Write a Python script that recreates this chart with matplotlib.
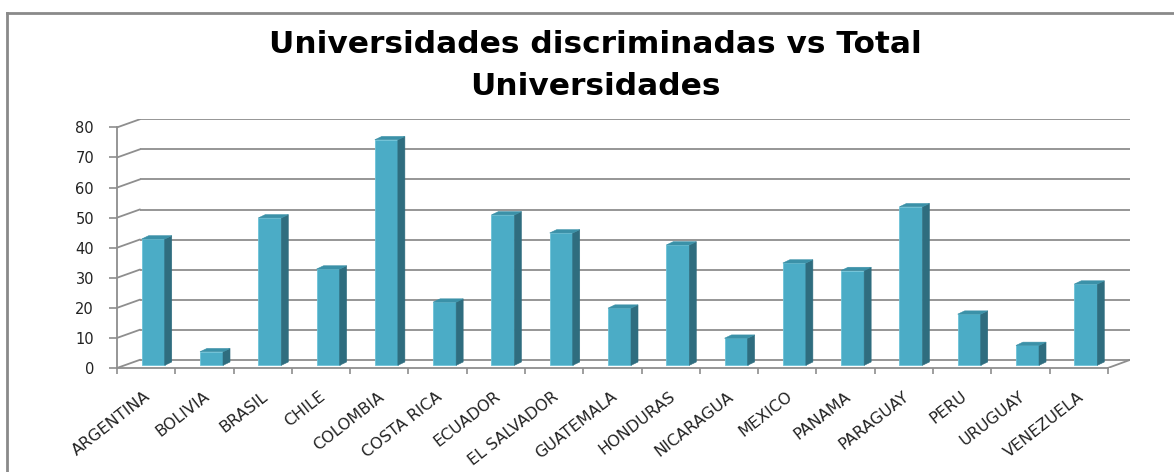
import matplotlib
matplotlib.use('Agg')
import matplotlib.pyplot as plt
from matplotlib.patches import Rectangle, Polygon
from matplotlib.lines import Line2D

# datos del grafico
paises = ['ARGENTINA', 'BOLIVIA', 'BRASIL', 'CHILE', 'COLOMBIA', 'COSTA RICA',
          'ECUADOR', 'EL SALVADOR', 'GUATEMALA', 'HONDURAS', 'NICARAGUA',
          'MEXICO', 'PANAMA', 'PARAGUAY', 'PERU', 'URUGUAY', 'VENEZUELA']
valores = [42, 4.5, 49, 32, 75, 21, 50, 44, 19, 40, 9, 34, 31.5, 52.7, 17, 6.6, 27]
yticks = [0, 10, 20, 30, 40, 50, 60, 70, 80]
titulo = ['Universidades discriminadas vs Total', 'Universidades']

# estilo
col_front = '#4bacc6'
col_side = '#2f6d7f'
col_top = '#3b91a8'
col_grid = '#8e8e8e'

W, H = 1174, 472
fig = plt.figure(figsize=(W / 100, H / 100), dpi=100)

# pseudo 3D: desplazamiento de la pared del fondo
dz = 2.7      # en unidades de y
dxb = 0.39    # en unidades de x
xmax = 17.38
ax = fig.add_axes([117 / W, (H - 368) / H, (1130 - 117) / W, (368 - 119.3) / H])
ax.set_xlim(0, xmax)
ax.set_ylim(-dz, 80)

# rejilla en la pared del fondo + lineas inclinadas del costado
for v in yticks:
    ax.plot([dxb, xmax], [v, v], color=col_grid, lw=1.3, zorder=1, solid_capstyle='butt')
    ax.plot([0, dxb], [v - dz, v], color=col_grid, lw=1.3, zorder=1)
n = len(paises)
ax.plot([n, xmax], [-dz, 0], color=col_grid, lw=1.3, zorder=1)

# barras con cara frontal, lateral y superior
base = -1.8
bw = 0.395
ddx, ddy = 0.12, 1.1
for i, v in enumerate(valores):
    x0 = i + 0.424
    ax.add_patch(Rectangle((x0, base), bw, v, facecolor=col_front,
                           edgecolor='#6cc3d8', lw=0.6, zorder=3))
    ax.add_patch(Polygon([(x0 + bw, base), (x0 + bw + ddx, base + ddy),
                          (x0 + bw + ddx, base + v + ddy), (x0 + bw, base + v)],
                         closed=True, facecolor=col_side, edgecolor=col_side, lw=0.4, zorder=3))
    ax.add_patch(Polygon([(x0, base + v), (x0 + ddx, base + v + ddy),
                          (x0 + bw + ddx, base + v + ddy), (x0 + bw, base + v)],
                         closed=True, facecolor=col_top, edgecolor=col_top, lw=0.4, zorder=3))

# ejes frontales
for s in ['top', 'right']:
    ax.spines[s].set_visible(False)
ax.spines['left'].set_bounds(-dz, 80 - dz)
ax.spines['bottom'].set_bounds(0, n)
for s in ['left', 'bottom']:
    ax.spines[s].set_color(col_grid)
    ax.spines[s].set_linewidth(1.3)

ax.set_yticks([v - dz for v in yticks])
ax.set_yticklabels([str(v) for v in yticks], fontsize=10.5, color='#222222')
ax.tick_params(axis='y', length=5.5, width=1.2, color=col_grid, pad=11)

ax.set_xticks([i + 0.47 for i in range(n)])
ax.set_xticks(range(n + 1), minor=True)
ax.set_xticklabels(paises, rotation=38, ha='right', rotation_mode='anchor',
                   fontsize=11.5, color='#222222')
ax.tick_params(axis='x', which='major', length=0, pad=15)
ax.tick_params(axis='x', which='minor', length=4, width=1.2, color=col_grid)

# titulo
fig.text(595 / W, 1 - 53 / H, titulo[0], ha='center', va='baseline',
         fontsize=22.5, fontweight='bold', color='black')
fig.text(595 / W, 1 - 95 / H, titulo[1], ha='center', va='baseline',
         fontsize=22.5, fontweight='bold', color='black')

# marco del grafico
fig.add_artist(Line2D([7 / W, 7 / W], [0, 1 - 13 / H], transform=fig.transFigure,
                      color='#8a8a8a', lw=2))
fig.add_artist(Line2D([7 / W, 1], [1 - 13 / H, 1 - 13 / H], transform=fig.transFigure,
                      color='#8a8a8a', lw=2))

fig.savefig('out.png', dpi=100)
